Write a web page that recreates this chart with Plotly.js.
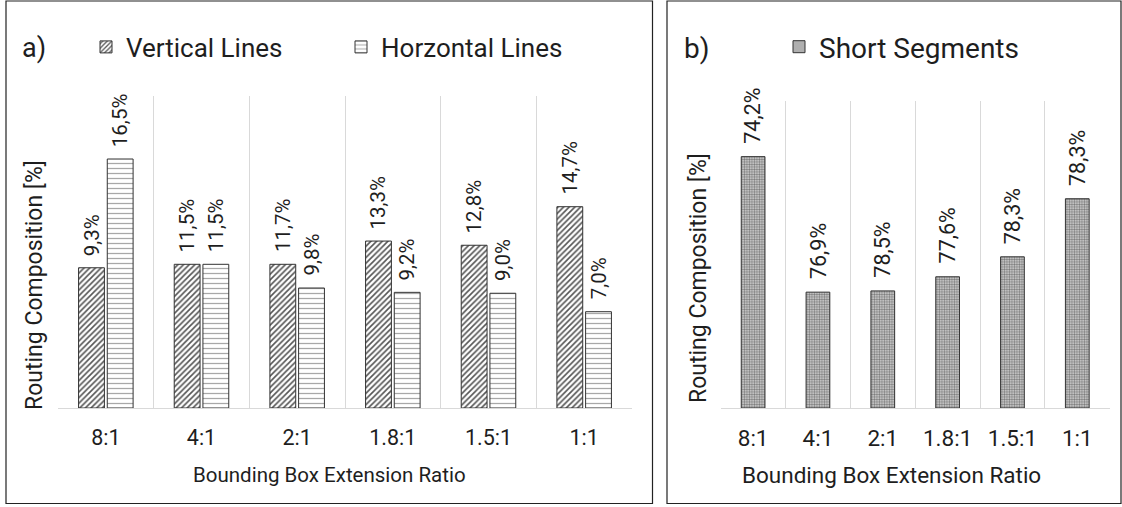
<!DOCTYPE html>
<html>
<head>
<meta charset="utf-8">
<script src="https://cdn.plot.ly/plotly-3.0.1.min.js"></script>
<style>
  html, body { margin: 0; padding: 0; background: #fff; }
  #chart { width: 1122px; height: 507px; }
</style>
</head>
<body>
<div id="chart"></div>
<script>
// ---- data ----
const categories = ['8:1', '4:1', '2:1', '1.8:1', '1.5:1', '1:1'];

// panel a) bar heights as drawn (arbitrary units) and printed labels
const verticalHeights = [9.35, 9.58, 9.58, 11.13, 10.85, 13.42];
const verticalLabels = ['9,3%', '11,5%', '11,7%', '13,3%', '12,8%', '14,7%'];
const horizontalHeights = [16.6, 9.58, 8.0, 7.71, 7.65, 6.42];
const horizontalLabels = ['16,5%', '11,5%', '9,8%', '9,2%', '9,0%', '7,0%'];

// panel b) bar heights as drawn (arbitrary units) and printed labels
const shortHeights = [81.8, 37.7, 38.1, 42.7, 49.2, 68.1];
const shortLabels = ['74,2%', '76,9%', '78,5%', '77,6%', '78,3%', '78,3%'];

const seriesNames = ['Vertical Lines', 'Horzontal Lines', 'Short Segments'];
const panelTags = ['a)', 'b)'];
const xTitle = 'Bounding Box Extension Ratio';
const yTitle = 'Routing Composition [%]';

// ---- layout helpers ----
const W = 1122, H = 507;
const fx = p => p / W;
const fy = p => 1 - p / H;
const FONT = 'Roboto, "Noto Sans", Arial, sans-serif';
const TXT = '#1e1e1e';
const BARGAP = 0.40;
const BARGROUPGAP = 0.10;
const SHORT_WIDTH = 0.366;

const outline = { color: '#333333', width: 1 };

const traces = [
  {
    type: 'bar', name: seriesNames[0], x: categories, y: verticalHeights,
    xaxis: 'x', yaxis: 'y', legend: 'legend', hoverinfo: 'skip',
    marker: { color: '#ffffff', line: outline,
      pattern: { shape: '/', fgcolor: '#555555', bgcolor: '#ffffff', size: 4, solidity: 0.4 } }
  },
  {
    type: 'bar', name: seriesNames[1], x: categories, y: horizontalHeights,
    xaxis: 'x', yaxis: 'y', legend: 'legend2', hoverinfo: 'skip',
    marker: { color: '#ffffff', line: outline,
      pattern: { shape: '-', fgcolor: '#a8a8a8', bgcolor: '#ffffff', size: 5, solidity: 0.25 } }
  },
  {
    type: 'bar', name: seriesNames[2], x: categories, y: shortHeights,
    xaxis: 'x2', yaxis: 'y2', legend: 'legend3', hoverinfo: 'skip', width: SHORT_WIDTH,
    marker: { color: '#d0d0d0', line: outline,
      pattern: { shape: '.', fgcolor: '#7a7a7a', bgcolor: '#d8d8d8', size: 2.5, solidity: 0.5 } }
  }
];

const annotations = [];
const groupOffset = (1 - BARGAP) / 4;
const labelFontA = { family: FONT, size: 20.5, color: TXT };
const labelFontB = { family: FONT, size: 21.5, color: TXT };
categories.forEach((c, i) => {
  annotations.push({ xref: 'x', yref: 'y', x: i - groupOffset, y: verticalHeights[i],
    text: verticalLabels[i], textangle: -90, showarrow: false, xanchor: 'center',
    yanchor: 'bottom', yshift: 10, font: labelFontA });
  annotations.push({ xref: 'x', yref: 'y', x: i + groupOffset, y: horizontalHeights[i],
    text: horizontalLabels[i], textangle: -90, showarrow: false, xanchor: 'center',
    yanchor: 'bottom', yshift: 10, font: labelFontA });
  annotations.push({ xref: 'x2', yref: 'y2', x: i, y: shortHeights[i],
    text: shortLabels[i], textangle: -90, showarrow: false, xanchor: 'center',
    yanchor: 'bottom', yshift: 11, font: labelFontB });
});

// panel tags
annotations.push({ xref: 'paper', yref: 'paper', x: fx(20), y: fy(48), text: panelTags[0],
  showarrow: false, xanchor: 'left', yanchor: 'middle', font: { family: FONT, size: 27, color: TXT } });
annotations.push({ xref: 'paper', yref: 'paper', x: fx(682), y: fy(48), text: panelTags[1],
  showarrow: false, xanchor: 'left', yanchor: 'middle', font: { family: FONT, size: 28, color: TXT } });

// axis titles
annotations.push({ xref: 'paper', yref: 'paper', x: fx(329), y: fy(475), text: xTitle,
  showarrow: false, xanchor: 'center', yanchor: 'middle', font: { family: FONT, size: 20.5, color: TXT } });
annotations.push({ xref: 'paper', yref: 'paper', x: fx(891), y: fy(475), text: xTitle,
  showarrow: false, xanchor: 'center', yanchor: 'middle', font: { family: FONT, size: 22.5, color: TXT } });
annotations.push({ xref: 'paper', yref: 'paper', x: fx(34), y: fy(285), text: yTitle, textangle: -90,
  showarrow: false, xanchor: 'center', yanchor: 'middle', font: { family: FONT, size: 23, color: TXT } });
annotations.push({ xref: 'paper', yref: 'paper', x: fx(698), y: fy(278), text: yTitle, textangle: -90,
  showarrow: false, xanchor: 'center', yanchor: 'middle', font: { family: FONT, size: 23, color: TXT } });

const xaxisBase = {
  type: 'category', tickson: 'boundaries', showgrid: true, gridcolor: '#d9d9d9', gridwidth: 1,
  showline: true, linecolor: '#d9d9d9', linewidth: 1, ticks: '', zeroline: false,
  ticklabelstandoff: 10, fixedrange: true
};

const legendBase = {
  orientation: 'h', xanchor: 'left', yanchor: 'middle', bgcolor: 'rgba(0,0,0,0)',
  borderwidth: 0, itemclick: false, itemdoubleclick: false
};

const layout = {
  width: W, height: H, autosize: false,
  margin: { l: 0, r: 0, t: 0, b: 0, pad: 0 },
  paper_bgcolor: '#ffffff', plot_bgcolor: 'rgba(0,0,0,0)',
  barmode: 'group', bargap: BARGAP, bargroupgap: BARGROUPGAP,
  font: { family: FONT, color: TXT },
  xaxis: Object.assign({}, xaxisBase, { domain: [fx(58), fx(632)], anchor: 'y',
    tickfont: { family: FONT, size: 21.5, color: TXT } }),
  yaxis: { domain: [fy(408), fy(96)], range: [0, 20.8], visible: false, showgrid: false, zeroline: false, fixedrange: true, anchor: 'x' },
  xaxis2: Object.assign({}, xaxisBase, { domain: [fx(720.7), fx(1109.7)], anchor: 'y2',
    tickfont: { family: FONT, size: 22.5, color: TXT } }),
  yaxis2: { domain: [fy(408), fy(100.7)], range: [0, 100], visible: false, showgrid: false, zeroline: false, fixedrange: true, anchor: 'x2' },
  legend: Object.assign({}, legendBase, { x: fx(86), y: fy(47), font: { family: FONT, size: 26, color: TXT } }),
  legend2: Object.assign({}, legendBase, { x: fx(341), y: fy(47), font: { family: FONT, size: 26, color: TXT } }),
  legend3: Object.assign({}, legendBase, { x: fx(779), y: fy(47), font: { family: FONT, size: 28, color: TXT } }),
  showlegend: true,
  annotations: annotations,
  shapes: [
    { type: 'rect', xref: 'paper', yref: 'paper', x0: fx(6), x1: fx(652.5), y0: fy(503.5), y1: fy(1),
      line: { color: '#222222', width: 1.2 }, fillcolor: 'rgba(0,0,0,0)', layer: 'above' },
    { type: 'rect', xref: 'paper', yref: 'paper', x0: fx(667), x1: fx(1121), y0: fy(503.5), y1: fy(1),
      line: { color: '#222222', width: 1.2 }, fillcolor: 'rgba(0,0,0,0)', layer: 'above' }
  ]
};

Plotly.newPlot('chart', traces, layout, { displayModeBar: false, staticPlot: true });
</script>
</body>
</html>
